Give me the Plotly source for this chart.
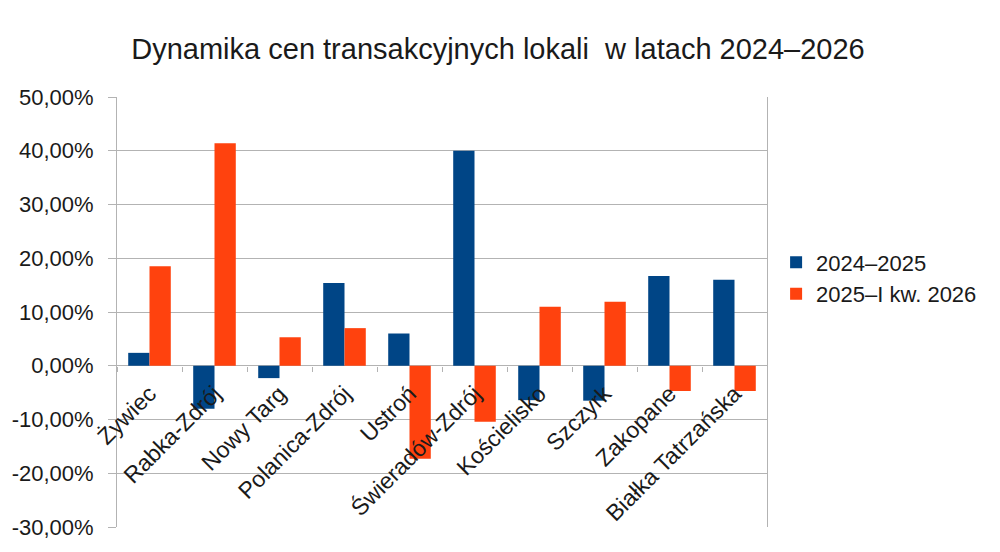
import plotly.graph_objects as go

categories = ["Żywiec", "Rabka-Zdrój", "Nowy Targ", "Polanica-Zdrój", "Ustroń",
              "Świeradów-Zdrój", "Kościelisko", "Szczyrk", "Zakopane", "Białka Tatrzańska"]
series_2024_2025 = [2.4, -8.0, -2.3, 15.4, 6.0, 40.0, -6.4, -6.5, 16.7, 16.0]
series_2025_2026 = [18.5, 41.4, 5.3, 7.0, -17.3, -10.4, 11.0, 11.9, -4.7, -4.7]
series_names = ["2024–2025", "2025–I kw. 2026"]
y_ticks = [-30, -20, -10, 0, 10, 20, 30, 40, 50]
y_tick_labels = ["-30,00%", "-20,00%", "-10,00%", "0,00%", "10,00%", "20,00%", "30,00%", "40,00%", "50,00%"]

FONT = "Liberation Sans, Arial, sans-serif"
GRID = "#b3b3b3"
TXT = "#1a1a1a"

fig = go.Figure()
fig.add_trace(go.Bar(x=categories, y=series_2024_2025, name=series_names[0],
                     marker=dict(color="#004586", line=dict(width=0))))
fig.add_trace(go.Bar(x=categories, y=series_2025_2026, name=series_names[1],
                     marker=dict(color="#ff420e", line=dict(width=0))))

fig.update_layout(
    width=1000, height=552,
    paper_bgcolor="white", plot_bgcolor="white",
    margin=dict(l=117, r=233, t=97, b=18),
    barmode="group", bargap=0.345, bargroupgap=0,
    font=dict(family=FONT, color=TXT),
    title=dict(text="Dynamika cen transakcyjnych lokali  w latach 2024–2026",
               x=0.498, xanchor="center", y=0.911, yanchor="middle",
               font=dict(size=29, family=FONT, color=TXT)),
    legend=dict(x=1.014, xanchor="left", y=0.578, yanchor="middle",
                font=dict(size=22, family=FONT, color=TXT),
                itemwidth=30, tracegroupgap=2),
    showlegend=True,
)
fig.update_xaxes(
    anchor="free", position=0.375,
    tickangle=-45, tickfont=dict(size=23, family=FONT, color=TXT),
    showgrid=False, showline=False, zeroline=False,
    ticks="outside", tickson="boundaries", ticklen=5, tickcolor=GRID,
    ticklabelstandoff=9,
)
fig.update_yaxes(
    range=[-30, 50], tickvals=y_ticks, ticktext=y_tick_labels,
    tickfont=dict(size=22, family=FONT, color=TXT),
    showgrid=True, gridcolor=GRID, gridwidth=1,
    zeroline=True, zerolinecolor=GRID, zerolinewidth=1,
    showline=True, linecolor=GRID, linewidth=1, mirror=True,
    ticks="outside", ticklen=8, tickcolor=GRID, ticklabelstandoff=10,
)

fig.write_html("out.html", config={"displayModeBar": False},
               post_script="document.body.style.margin='0';")
